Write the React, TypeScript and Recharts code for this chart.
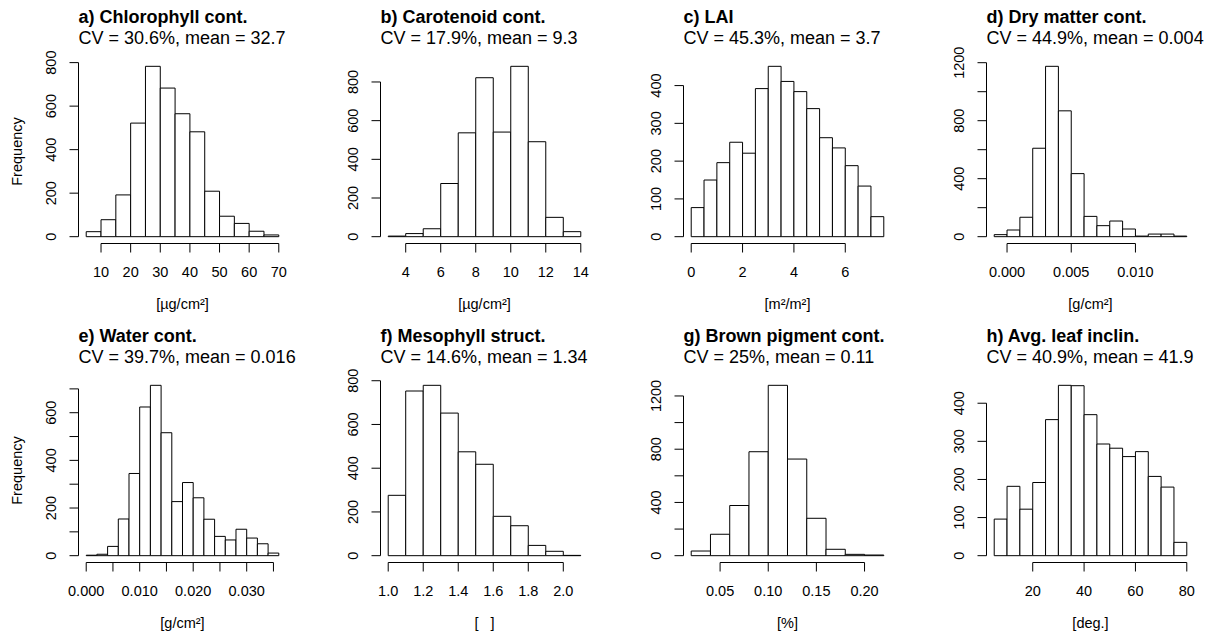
import React from 'react';
import { BarChart, Bar, XAxis, YAxis, ReferenceLine } from 'recharts';

const FONT = '"Liberation Sans", Arial, Helvetica, sans-serif';

// ---------------- data ----------------
// a) Chlorophyll content
const chlorophyllBreaks = [5, 10, 15, 20, 25, 30, 35, 40, 45, 50, 55, 60, 65, 70];
const chlorophyllCounts = [23, 78, 192, 522, 783, 683, 565, 482, 209, 94, 61, 25, 8];
const chlorophyllXTicks = [10, 20, 30, 40, 50, 60, 70];
const chlorophyllXLabels = ['10', '20', '30', '40', '50', '60', '70'];
const chlorophyllYTicks = [0, 200, 400, 600, 800];
const chlorophyllYLabels = ['0', '200', '400', '600', '800'];

// b) Carotenoid content
const carotenoidBreaks = [3, 4, 5, 6, 7, 8, 9, 10, 11, 12, 13, 14];
const carotenoidCounts = [3, 16, 41, 275, 537, 822, 541, 881, 491, 100, 26];
const carotenoidXTicks = [4, 6, 8, 10, 12, 14];
const carotenoidXLabels = ['4', '6', '8', '10', '12', '14'];
const carotenoidYTicks = [0, 200, 400, 600, 800];
const carotenoidYLabels = ['0', '200', '400', '600', '800'];

// c) LAI
const laiBreaks = [0, 0.5, 1, 1.5, 2, 2.5, 3, 3.5, 4, 4.5, 5, 5.5, 6, 6.5, 7, 7.5];
const laiCounts = [77, 150, 196, 250, 221, 392, 451, 411, 384, 339, 262, 235, 188, 134, 53];
const laiXTicks = [0, 2, 4, 6];
const laiXLabels = ['0', '2', '4', '6'];
const laiYTicks = [0, 100, 200, 300, 400];
const laiYLabels = ['0', '100', '200', '300', '400'];

// d) Dry matter content
const dryMatterBreaks = [-0.001, 0, 0.001, 0.002, 0.003, 0.004, 0.005, 0.006, 0.007, 0.008, 0.009, 0.01, 0.011, 0.012, 0.013, 0.014];
const dryMatterCounts = [14, 46, 134, 610, 1175, 868, 435, 140, 76, 108, 53, 4, 18, 18, 4];
const dryMatterXTicks = [0, 0.005, 0.01];
const dryMatterXLabels = ['0.000', '0.005', '0.010'];
const dryMatterYTicks = [0, 200, 400, 600, 800, 1000, 1200];
const dryMatterYLabels = ['0', '', '400', '', '800', '', '1200'];

// e) Water content
const waterBreaks = [0, 0.002, 0.004, 0.006, 0.008, 0.01, 0.012, 0.014, 0.016, 0.018, 0.02, 0.022, 0.024, 0.026, 0.028, 0.03, 0.032, 0.034, 0.036];
const waterCounts = [2, 6, 39, 154, 345, 624, 715, 516, 227, 307, 243, 153, 81, 66, 111, 74, 50, 11];
const waterXTicks = [0, 0.005, 0.01, 0.015, 0.02, 0.025, 0.03, 0.035];
const waterXLabels = ['0.000', '', '0.010', '', '0.020', '', '0.030', ''];
const waterYTicks = [0, 100, 200, 300, 400, 500, 600, 700];
const waterYLabels = ['0', '', '200', '', '400', '', '600', ''];

// f) Mesophyll structure
const mesophyllBreaks = [1.0, 1.1, 1.2, 1.3, 1.4, 1.5, 1.6, 1.7, 1.8, 1.9, 2.0, 2.1];
const mesophyllCounts = [276, 753, 779, 652, 475, 418, 180, 137, 47, 20, 0];
const mesophyllXTicks = [1.0, 1.2, 1.4, 1.6, 1.8, 2.0];
const mesophyllXLabels = ['1.0', '1.2', '1.4', '1.6', '1.8', '2.0'];
const mesophyllYTicks = [0, 200, 400, 600, 800];
const mesophyllYLabels = ['0', '200', '400', '600', '800'];

// g) Brown pigment content
const brownBreaks = [0.02, 0.04, 0.06, 0.08, 0.1, 0.12, 0.14, 0.16, 0.18, 0.2, 0.22];
const brownCounts = [35, 161, 377, 781, 1280, 726, 281, 48, 10, 5];
const brownXTicks = [0.05, 0.1, 0.15, 0.2];
const brownXLabels = ['0.05', '0.10', '0.15', '0.20'];
const brownYTicks = [0, 200, 400, 600, 800, 1000, 1200];
const brownYLabels = ['0', '', '400', '', '800', '', '1200'];

// h) Average leaf inclination
const inclinBreaks = [5, 10, 15, 20, 25, 30, 35, 40, 45, 50, 55, 60, 65, 70, 75, 80];
const inclinCounts = [96, 182, 122, 192, 357, 447, 446, 370, 293, 282, 260, 273, 208, 180, 35];
const inclinXTicks = [20, 40, 60, 80];
const inclinXLabels = ['20', '40', '60', '80'];
const inclinYTicks = [0, 100, 200, 300, 400];
const inclinYLabels = ['0', '100', '200', '300', '400'];

// ---------------- layout ----------------
const CHART_W = 300;
const CHART_H = 319;
const AXIS_W = 70;
const LEFT_M = 0.5;
const TOP = 59.5;
const PLOT_W = 208;
const PLOT_H = 184;
const XAXIS_H = 75;
const TICK = 9;
const COL_LEFT = [8, 310, 613, 916];
const ROW_TOP = [0, 319];

type Panel = {
  title: string;
  subtitle: string;
  unit: string;
  breaks: number[];
  counts: number[];
  xTicks: number[];
  xLabels: string[];
  yTicks: number[];
  yLabels: string[];
  freq: boolean;
  col: number;
  row: number;
};

const panels: Panel[] = [
  { title: 'a) Chlorophyll cont.', subtitle: 'CV = 30.6%, mean = 32.7', unit: '[µg/cm²]', breaks: chlorophyllBreaks, counts: chlorophyllCounts, xTicks: chlorophyllXTicks, xLabels: chlorophyllXLabels, yTicks: chlorophyllYTicks, yLabels: chlorophyllYLabels, freq: true, col: 0, row: 0 },
  { title: 'b) Carotenoid cont.', subtitle: 'CV = 17.9%, mean = 9.3', unit: '[µg/cm²]', breaks: carotenoidBreaks, counts: carotenoidCounts, xTicks: carotenoidXTicks, xLabels: carotenoidXLabels, yTicks: carotenoidYTicks, yLabels: carotenoidYLabels, freq: false, col: 1, row: 0 },
  { title: 'c) LAI', subtitle: 'CV = 45.3%, mean = 3.7', unit: '[m²/m²]', breaks: laiBreaks, counts: laiCounts, xTicks: laiXTicks, xLabels: laiXLabels, yTicks: laiYTicks, yLabels: laiYLabels, freq: false, col: 2, row: 0 },
  { title: 'd) Dry matter cont.', subtitle: 'CV = 44.9%, mean = 0.004', unit: '[g/cm²]', breaks: dryMatterBreaks, counts: dryMatterCounts, xTicks: dryMatterXTicks, xLabels: dryMatterXLabels, yTicks: dryMatterYTicks, yLabels: dryMatterYLabels, freq: false, col: 3, row: 0 },
  { title: 'e) Water cont.', subtitle: 'CV = 39.7%, mean = 0.016', unit: '[g/cm²]', breaks: waterBreaks, counts: waterCounts, xTicks: waterXTicks, xLabels: waterXLabels, yTicks: waterYTicks, yLabels: waterYLabels, freq: true, col: 0, row: 1 },
  { title: 'f) Mesophyll struct.', subtitle: 'CV = 14.6%, mean = 1.34', unit: '[   ]', breaks: mesophyllBreaks, counts: mesophyllCounts, xTicks: mesophyllXTicks, xLabels: mesophyllXLabels, yTicks: mesophyllYTicks, yLabels: mesophyllYLabels, freq: false, col: 1, row: 1 },
  { title: 'g) Brown pigment cont.', subtitle: 'CV = 25%, mean = 0.11', unit: '[%]', breaks: brownBreaks, counts: brownCounts, xTicks: brownXTicks, xLabels: brownXLabels, yTicks: brownYTicks, yLabels: brownYLabels, freq: false, col: 2, row: 1 },
  { title: 'h) Avg. leaf inclin.', subtitle: 'CV = 40.9%, mean = 41.9', unit: '[deg.]', breaks: inclinBreaks, counts: inclinCounts, xTicks: inclinXTicks, xLabels: inclinXLabels, yTicks: inclinYTicks, yLabels: inclinYLabels, freq: false, col: 3, row: 1 },
];

const textStyle: React.CSSProperties = { fontFamily: FONT, fill: '#000' };

function Histogram({ p }: { p: Panel }) {
  const n = p.counts.length;
  const rows = p.counts.map((c, i) => ({
    bin: `${p.breaks[i]}-${p.breaks[i + 1]}`,
    mid: (p.breaks[i] + p.breaks[i + 1]) / 2,
    count: c,
  }));
  const lo = p.breaks[0];
  const hi = p.breaks[n];
  const ext = (hi - lo) * 0.04;
  const ymax = Math.max(...p.counts);
  const yLo = -ymax * 0.04;
  const yHi = ymax * 1.04;
  const pad = (PLOT_W * 0.04) / 1.08;
  const band = (PLOT_W - 2 * pad) / n;
  const plotLeft = LEFT_M + AXIS_W;

  const xTick = (props: any) => {
    const { x, y, payload } = props;
    const idx = p.xTicks.indexOf(payload.value);
    const label = idx >= 0 ? p.xLabels[idx] : '';
    if (!label) return <g />;
    return (
      <text x={x} y={y + 24.4} textAnchor="middle" fontSize={14.5} style={textStyle}>
        {label}
      </text>
    );
  };
  const yTick = (props: any) => {
    const { x, y, payload } = props;
    const idx = p.yTicks.indexOf(payload.value);
    const label = idx >= 0 ? p.yLabels[idx] : '';
    if (!label) return <g />;
    const bx = x - 13.6;
    return (
      <text x={bx} y={y} transform={`rotate(-90 ${bx} ${y})`} textAnchor="middle" fontSize={14.5} style={textStyle}>
        {label}
      </text>
    );
  };

  return (
    <div
      style={{
        position: 'absolute',
        left: COL_LEFT[p.col],
        top: ROW_TOP[p.row],
        width: CHART_W,
        height: CHART_H,
      }}
    >
      <BarChart
        width={CHART_W}
        height={CHART_H}
        data={rows}
        barCategoryGap={0}
        barGap={0}
        margin={{
          top: TOP,
          left: LEFT_M,
          right: CHART_W - LEFT_M - AXIS_W - PLOT_W,
          bottom: CHART_H - TOP - PLOT_H - XAXIS_H,
        }}
      >
        <XAxis
          xAxisId="num"
          dataKey="mid"
          type="number"
          domain={[lo - ext, hi + ext]}
          allowDataOverflow
          ticks={p.xTicks}
          interval={0}
          height={XAXIS_H}
          tickSize={TICK}
          tickMargin={0}
          axisLine={false}
          stroke="#000"
          tick={xTick}
        />
        <XAxis xAxisId="cat" dataKey="bin" type="category" hide height={0} padding={{ left: pad, right: pad }} />
        <YAxis
          type="number"
          domain={[yLo, yHi]}
          allowDataOverflow
          ticks={p.yTicks}
          interval={0}
          width={AXIS_W}
          tickSize={TICK}
          tickMargin={0}
          axisLine={false}
          stroke="#000"
          tick={yTick}
        />
        <Bar
          xAxisId="cat"
          dataKey="count"
          fill="#ffffff"
          stroke="#000000"
          strokeWidth={1}
          barSize={band - 0.001}
          minPointSize={0.3}
          isAnimationActive={false}
        />
        <ReferenceLine
          xAxisId="num"
          segment={[
            { x: lo - ext, y: 0 },
            { x: lo - ext, y: p.yTicks[p.yTicks.length - 1] },
          ]}
          stroke="#000"
          strokeWidth={1}
          ifOverflow="visible"
        />
        <ReferenceLine
          xAxisId="num"
          segment={[
            { x: p.xTicks[0], y: yLo },
            { x: p.xTicks[p.xTicks.length - 1], y: yLo },
          ]}
          stroke="#000"
          strokeWidth={1}
          ifOverflow="visible"
        />
      </BarChart>
      <svg
        width={CHART_W}
        height={CHART_H}
        style={{ position: 'absolute', left: 0, top: 0, pointerEvents: 'none', overflow: 'visible' }}
      >
        <text x={plotLeft} y={22.7} fontSize={18} fontWeight="bold" style={textStyle}>
          {p.title}
        </text>
        <text x={plotLeft} y={44.3} fontSize={18} style={textStyle}>
          {p.subtitle}
        </text>
        <text x={plotLeft + PLOT_W / 2} y={308.5} fontSize={14.5} textAnchor="middle" style={textStyle} xmlSpace="preserve">
          {p.unit}
        </text>
        {p.freq && (
          <text
            x={14}
            y={TOP + PLOT_H / 2}
            transform={`rotate(-90 14 ${TOP + PLOT_H / 2})`}
            fontSize={14.5}
            textAnchor="middle"
            style={textStyle}
          >
            Frequency
          </text>
        )}
      </svg>
    </div>
  );
}

export default function App() {
  return (
    <div
      style={{
        position: 'absolute',
        left: 0,
        top: 0,
        width: 1222,
        height: 638,
        background: '#ffffff',
        overflow: 'hidden',
      }}
    >
      {panels.map((p) => (
        <Histogram key={p.title} p={p} />
      ))}
    </div>
  );
}
